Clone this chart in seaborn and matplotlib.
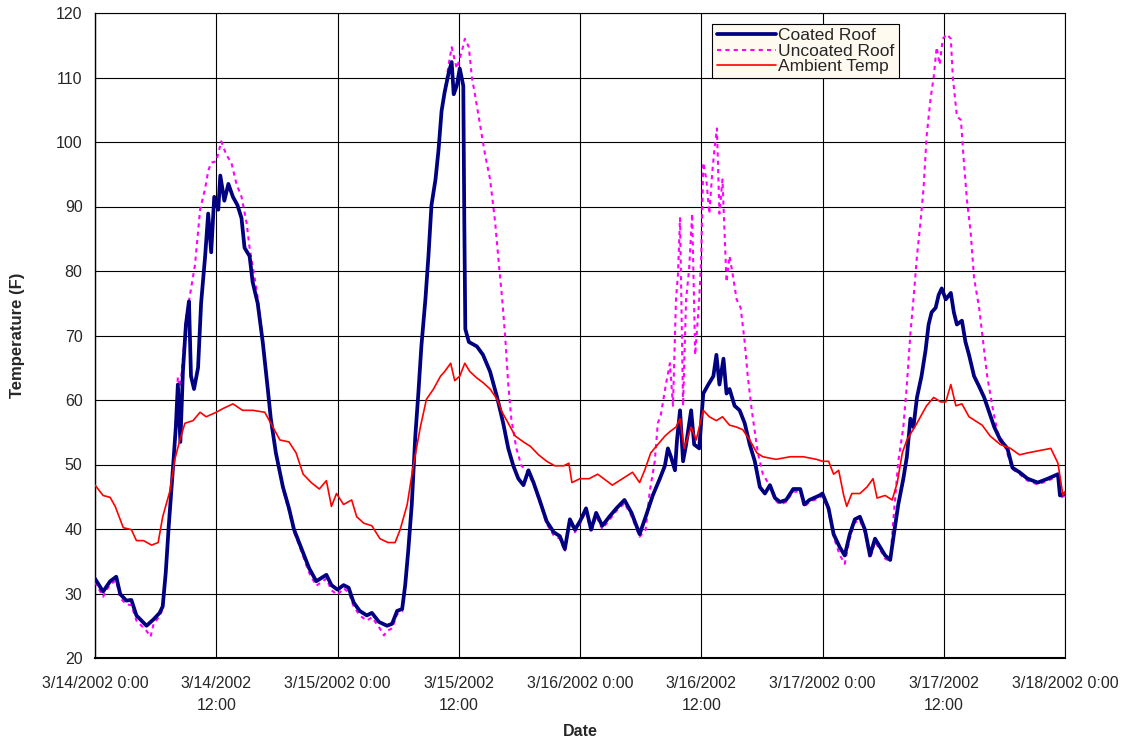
import numpy as np
import pandas as pd
import matplotlib
matplotlib.use("Agg")
import matplotlib.pyplot as plt
import seaborn as sns

# ---------------- data (hours since 3/14/2002 0:00, temperature in F) ----------------
coated_t = [0, 0.8, 1.5, 2.1, 2.5, 3.1, 3.6, 4.1, 5.1, 5.8, 6.4, 6.7, 7.0, 7.3, 7.7, 8.0, 8.2, 8.45, 8.7, 9.0,
            9.3, 9.5, 9.8, 10.2, 10.5, 10.9, 11.2, 11.5, 11.8, 12.2, 12.4, 12.8, 13.2, 13.65, 14.1, 14.5, 14.8, 15.3, 15.6, 16.1,
            16.6, 17.1, 17.4, 17.9, 18.6, 19.2, 19.7, 20.2, 21.2, 21.9, 22.9, 23.4, 24.0,
            24.6, 25.1, 25.6, 26.2, 26.9, 27.4, 28.1, 28.9, 29.4, 29.9, 30.4, 30.7, 31.0, 31.35, 31.7, 32.0, 32.3, 32.7, 33.0, 33.3,
            33.7, 34.0, 34.3, 34.6, 35.0, 35.3, 35.5, 35.8, 36.1, 36.45, 36.55, 36.65, 37.0, 37.8, 38.4, 39.1, 39.8, 40.4, 40.9, 41.4,
            41.9, 42.4, 42.9, 43.4, 44.0, 44.7, 45.4, 46.0, 46.5, 47.0, 47.5, 48.0,
            48.6, 49.1, 49.6, 50.2, 50.9, 51.6, 52.4, 53.1, 53.9, 54.5, 55.2, 55.9, 56.4, 56.7, 57.0, 57.4, 57.6, 57.9, 58.2, 58.5,
            59.0, 59.3, 59.8, 60.2, 60.7, 61.2, 61.5, 61.8, 62.2, 62.5, 62.8, 63.3, 63.8, 64.3, 64.8, 65.3, 65.8, 66.3, 66.8, 67.3,
            67.8, 68.4, 69.1, 69.8, 70.2, 70.7, 71.7,
            72.0, 72.6, 73.1, 73.7, 74.2, 74.7, 75.2, 75.7, 76.2, 76.7, 77.2, 77.7, 78.2, 78.7, 79.0, 79.5, 80.0, 80.35, 80.7, 81.0,
            81.35, 81.8, 82.2, 82.5, 82.8, 83.2, 83.5, 83.8, 84.2, 84.7, 85.0, 85.3, 85.8, 86.15, 86.5, 87.0, 87.5, 88.0, 88.5, 89.0,
            89.6, 90.3, 90.8, 91.5, 92.3, 93.3, 94.3, 95.3, 95.5, 96.0]
coated_v = [32.3, 30.3, 31.9, 32.6, 29.9, 28.9, 29.0, 26.6, 25.0, 26.0, 27.0, 28.0, 33.2, 40.5, 49.1, 55.8, 62.4, 53.5, 64.4, 71.7,
            75.3, 63.7, 61.7, 65.0, 75.0, 82.3, 88.9, 82.9, 91.5, 89.5, 94.8, 90.9, 93.5, 91.5, 90.2, 88.2, 83.6, 82.3, 78.3, 75.0,
            69.0, 61.7, 57.1, 51.8, 46.5, 43.2, 39.9, 37.9, 33.9, 31.9, 32.9, 31.3, 30.6,
            31.3, 30.9, 28.6, 27.3, 26.6, 27.0, 25.6, 25.0, 25.3, 27.3, 27.6, 31.3, 36.6, 43.8, 54.4, 61.0, 68.3, 75.6, 82.3, 90.2,
            94.2, 98.8, 104.8, 107.7, 110.7, 112.4, 107.4, 108.7, 111.4, 108.7, 87.6, 71.0, 69.0, 68.3, 67.0, 64.4, 60.4, 56.4, 52.5, 49.8,
            47.8, 46.8, 49.1, 47.2, 44.5, 41.2, 39.5, 38.9, 36.9, 41.5, 39.9, 41.2,
            43.2, 39.9, 42.5, 40.5, 41.9, 43.2, 44.5, 42.5, 39.2, 41.9, 45.2, 47.8, 49.8, 52.5, 51.2, 49.1, 53.8, 58.4, 50.5, 53.1,
            58.4, 53.1, 52.5, 61.0, 62.4, 63.7, 67.0, 62.4, 66.4, 61.0, 61.7, 59.1, 58.4, 56.4, 53.1, 50.5, 46.5, 45.5, 46.8, 44.8,
            44.2, 44.5, 46.2, 46.2, 43.8, 44.5, 45.2,
            45.5, 43.2, 39.2, 37.2, 35.9, 39.2, 41.5, 41.9, 39.9, 35.9, 38.5, 37.2, 35.9, 35.2, 38.5, 43.8, 47.8, 51.2, 57.1, 55.8,
            60.4, 63.7, 67.7, 71.7, 73.6, 74.3, 76.3, 77.3, 75.6, 76.6, 73.6, 71.7, 72.3, 69.0, 67.0, 63.7, 62.1, 60.4, 58.1, 55.8,
            53.8, 52.5, 49.5, 48.8, 47.8, 47.2, 47.8, 48.5, 45.2, 45.5]

uncoated_t = [0, 0.8, 1.5, 2.1, 2.5, 3.1, 3.6, 4.1, 5.1, 5.5, 5.8, 6.4, 6.7, 7.0, 7.3, 7.7, 8.0, 8.2, 8.45, 8.7,
              9.0, 9.4, 9.9, 10.4, 10.9, 11.2, 11.5, 12.0, 12.5, 13.0, 13.5, 14.0, 14.5, 15.0, 15.3, 16.0, 16.6, 17.1, 17.4, 17.9,
              18.6, 19.2, 19.7, 20.2, 21.2, 21.9, 22.9, 23.4, 24.0,
              24.6, 25.1, 25.6, 26.2, 26.9, 27.4, 28.1, 28.6, 28.9, 29.4, 29.9, 30.4, 30.7, 31.0, 31.35, 31.7, 32.0, 32.3, 32.7, 33.0,
              33.3, 33.7, 34.0, 34.3, 34.6, 35.0, 35.3, 35.8, 36.3, 36.6, 37.0, 37.3, 37.6, 38.1, 38.6, 39.1, 39.6, 39.9, 40.3, 40.6,
              40.9, 41.2, 41.7, 42.2, 42.7, 43.4, 44.0, 44.7, 45.4, 46.0, 46.5, 47.0, 47.5, 48.0,
              48.6, 49.1, 49.6, 50.2, 50.9, 51.6, 52.4, 53.1, 53.9, 54.5, 54.9, 55.4, 55.7, 56.0, 56.5, 56.9, 57.2, 57.5, 57.7, 57.9,
              58.2, 58.5, 58.8, 59.1, 59.4, 59.8, 60.0, 60.2, 60.5, 60.8, 61.1, 61.3, 61.55, 61.8, 62.1, 62.5, 62.8, 63.1, 63.5, 63.9,
              64.3, 64.6, 65.0, 65.3, 65.6, 66.1, 66.6, 66.8, 67.3, 67.8, 68.4, 69.1, 69.8, 70.2, 70.7, 71.7,
              72.0, 72.6, 73.1, 73.7, 74.2, 74.7, 75.2, 75.7, 76.2, 76.7, 77.2, 77.7, 78.2, 78.7, 79.0, 79.5, 80.0, 80.35, 80.7, 81.0,
              81.35, 81.7, 82.0, 82.3, 82.7, 83.0, 83.3, 83.6, 83.9, 84.3, 84.7, 84.9, 85.3, 85.7, 86.0, 86.3, 86.65, 87.0, 87.5, 87.8,
              88.3, 88.8, 89.3, 90.0, 90.8, 91.5, 92.3, 93.3, 94.3, 95.3, 95.5, 96.0]
uncoated_v = [31.8, 29.5, 31.5, 32.0, 29.3, 28.3, 28.2, 25.8, 24.2, 23.3, 25.3, 26.5, 27.6, 33.0, 40.5, 49.5, 56.5, 63.5, 62.0, 66.5,
              72.5, 76.3, 81.0, 89.5, 92.8, 95.5, 96.8, 97.0, 100.1, 98.0, 96.8, 93.5, 91.5, 87.5, 83.6, 77.0, 69.5, 61.7, 57.1, 51.8,
              46.2, 42.8, 39.5, 37.5, 33.2, 31.2, 32.3, 30.5, 29.8,
              30.8, 30.2, 28.0, 26.6, 25.8, 26.3, 24.8, 23.5, 24.2, 24.6, 26.8, 27.2, 31.0, 36.6, 43.8, 54.4, 61.0, 68.3, 75.6, 82.3,
              90.2, 94.2, 98.8, 104.8, 107.7, 112.0, 114.7, 111.4, 114.0, 116.0, 114.7, 110.0, 107.4, 102.8, 98.1, 94.2, 87.6, 82.3, 75.6, 69.7,
              62.4, 57.1, 52.5, 49.8, 49.1, 47.0, 44.2, 40.8, 39.0, 38.5, 36.5, 41.2, 39.5, 40.8,
              42.8, 39.4, 42.0, 40.0, 41.4, 42.8, 44.0, 42.0, 38.8, 39.9, 45.8, 50.5, 56.4, 57.7, 62.4, 65.7, 59.1, 75.6, 79.6, 88.2,
              59.1, 75.6, 80.3, 88.9, 67.0, 75.6, 82.3, 96.8, 94.2, 88.9, 95.5, 98.8, 102.1, 88.9, 94.2, 78.3, 82.3, 79.6, 75.6, 74.3,
              69.0, 63.7, 58.4, 55.1, 51.8, 48.5, 47.2, 46.5, 44.5, 43.8, 44.2, 45.8, 45.8, 43.4, 44.2, 44.8,
              45.2, 42.8, 38.8, 36.0, 34.6, 38.6, 41.0, 41.4, 39.4, 35.4, 38.0, 36.8, 35.4, 35.0, 41.2, 50.5, 55.8, 62.4, 70.3, 75.6,
              82.3, 87.6, 92.8, 100.8, 106.8, 110.0, 114.7, 112.0, 116.0, 116.7, 116.0, 110.0, 104.0, 103.4, 96.8, 90.9, 86.2, 78.9, 74.3, 70.3,
              63.7, 59.1, 55.1, 53.1, 49.3, 48.5, 47.5, 46.9, 47.5, 48.2, 44.8, 45.2]

ambient_t = [0, 0.8, 1.5, 2.0, 2.8, 3.6, 4.1, 4.8, 5.6, 6.25, 6.7, 7.4, 7.9, 8.4, 8.9, 9.7, 10.4, 11.0, 12.0, 12.7,
             13.65, 14.6, 15.6, 16.8, 17.4, 18.3, 19.2, 19.9, 20.6, 21.4, 22.2, 22.9, 23.4, 23.9,
             24.6, 25.4, 25.9, 26.6, 27.4, 28.2, 29.0, 29.7, 30.2, 30.9, 31.5, 32.2, 32.8, 33.5, 34.2, 34.6, 35.2, 35.6, 36.1, 36.6,
             37.1, 37.8, 38.4, 39.1, 39.8, 40.3, 40.9, 41.6, 42.4, 43.1, 43.9, 44.7, 45.5, 46.4, 46.9, 47.2, 48.0,
             48.9, 49.75, 50.6, 51.2, 52.2, 53.2, 53.9, 54.4, 55.0, 55.7, 56.4, 56.9, 57.5, 57.9, 58.3, 59.0, 59.5, 60.2, 60.8, 61.5,
             62.1, 62.8, 63.5, 64.1, 64.8, 65.5, 66.1, 67.4, 68.8, 70.1, 71.4,
             72.0, 72.6, 73.1, 73.6, 74.1, 74.4, 74.9, 75.7, 76.4, 77.0, 77.4, 78.2, 78.9, 79.4, 79.9, 80.35, 80.85, 81.35, 81.8, 82.3,
             83.0, 83.7, 84.2, 84.7, 85.2, 85.8, 86.5, 87.1, 87.8, 88.6, 89.6, 90.6, 91.5, 92.3, 93.3, 94.6, 95.3, 95.8, 96.0]
ambient_v = [46.8, 45.2, 44.9, 43.5, 40.2, 39.9, 38.2, 38.2, 37.5, 37.9, 41.9, 45.8, 50.8, 53.8, 56.4, 56.8, 58.1, 57.4, 58.1, 58.7,
             59.4, 58.4, 58.4, 58.1, 56.4, 53.8, 53.5, 51.8, 48.5, 47.2, 46.2, 47.5, 43.5, 45.5,
             43.8, 44.5, 41.9, 40.9, 40.5, 38.5, 37.9, 37.9, 39.9, 43.8, 49.8, 55.8, 60.1, 61.7, 63.7, 64.4, 65.7, 63.0, 63.7, 65.7,
             64.4, 63.4, 62.7, 61.7, 60.1, 58.1, 56.4, 54.4, 53.5, 52.8, 51.5, 50.5, 49.8, 49.8, 50.2, 47.2, 47.8,
             47.8, 48.5, 47.5, 46.8, 47.8, 48.8, 47.2, 49.1, 51.8, 53.1, 54.4, 55.1, 55.8, 57.1, 52.5, 55.8, 53.8, 58.4, 57.4, 56.8,
             57.4, 56.1, 55.8, 55.4, 53.8, 51.8, 51.2, 50.8, 51.2, 51.2, 50.8,
             50.5, 50.5, 48.5, 49.1, 45.2, 43.5, 45.5, 45.5, 46.5, 47.8, 44.8, 45.2, 44.5, 47.2, 51.8, 53.8, 55.1, 56.4, 57.7, 59.1,
             60.4, 59.7, 59.7, 62.4, 59.1, 59.4, 57.4, 56.8, 56.1, 54.4, 53.1, 52.5, 51.5, 51.8, 52.1, 52.5, 50.2, 45.2, 45.8]

tick_hours = [0, 12, 24, 36, 48, 60, 72, 84, 96]
tick_labels = ["3/14/2002 0:00", "3/14/2002\n12:00", "3/15/2002 0:00", "3/15/2002\n12:00",
               "3/16/2002 0:00", "3/16/2002\n12:00", "3/17/2002 0:00", "3/17/2002\n12:00", "3/18/2002 0:00"]
y_ticks = [20, 30, 40, 50, 60, 70, 80, 90, 100, 110, 120]

assert len(coated_t) == len(coated_v)
assert len(uncoated_t) == len(uncoated_v)
assert len(ambient_t) == len(ambient_v)

# ---------------- plot ----------------
sns.set_style("white")
plt.rcParams['font.family'] = ['Liberation Sans', 'DejaVu Sans']

fig = plt.figure(figsize=(11.25, 7.42), dpi=100)
ax = fig.add_axes([95 / 1125, 1 - 658 / 742, 970 / 1125, 645 / 742])

sns.lineplot(x=coated_t, y=coated_v, ax=ax, color="#000080", lw=2.7, label="Coated Roof",
             estimator=None, sort=False, zorder=4)
sns.lineplot(x=uncoated_t, y=uncoated_v, ax=ax, color="#FF00FF", lw=1.5, label="Uncoated Roof",
             estimator=None, sort=False, zorder=3, linestyle=(0, (2, 2)))
sns.lineplot(x=ambient_t, y=ambient_v, ax=ax, color="#FF0000", lw=1.2, label="Ambient Temp",
             estimator=None, sort=False, zorder=5)

ax.set_xlim(0, 96)
ax.set_ylim(20, 120)
ax.set_xticks(tick_hours)
ax.set_xticklabels(tick_labels, fontsize=11.5, linespacing=1.55)
ax.set_yticks(y_ticks)
ax.set_yticklabels([str(v) for v in y_ticks], fontsize=11.5)
ax.grid(True, color="black", lw=0.8)
ax.set_axisbelow(True)
for s in ax.spines.values():
    s.set_color("black")
    s.set_linewidth(0.8)
ax.spines['left'].set_linewidth(1.0)
ax.spines['bottom'].set_linewidth(1.5)
ax.tick_params(axis='both', direction='out', length=5, width=0.8, color='black')
ax.tick_params(axis='x', pad=8)
ax.tick_params(axis='y', pad=4)

ax.set_xlabel("Date", fontsize=11.5, fontweight="bold", va="center")
ax.xaxis.set_label_coords(0.5, (658 - 731) / 645)
ax.set_ylabel("Temperature (F)", fontsize=12, fontweight="bold", va="center")
ax.yaxis.set_label_coords((18 - 95) / 970, 0.5)

leg = ax.legend(loc="upper left", bbox_to_anchor=(0.6365, 0.983), frameon=True, fancybox=False,
                fontsize=12.5, handlelength=3.4, handletextpad=0.15, borderpad=0.25, labelspacing=0.0,
                borderaxespad=0)
leg.get_frame().set_facecolor("#FFFAF0")
leg.get_frame().set_edgecolor("black")
leg.get_frame().set_linewidth(0.8)
leg.get_frame().set_alpha(1)

fig.savefig("out.png", dpi=100)
